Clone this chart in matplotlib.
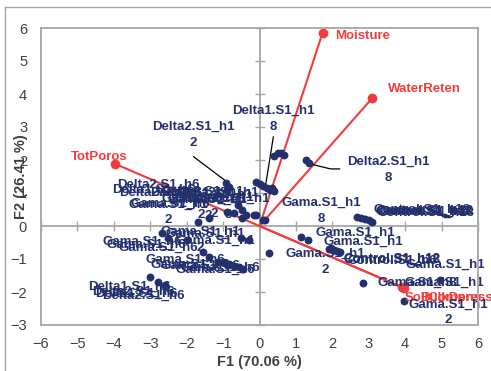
import matplotlib
matplotlib.use("Agg")
import matplotlib.pyplot as plt
from matplotlib.lines import Line2D

plt.rcParams['font.family'] = ['Liberation Sans', 'DejaVu Sans']

NAVY = '#22306E'
RED = '#F03C3C'
GRAY = '#A6A6A6'
TXT = '#404040'

# ---- observations (F1, F2) ----
obs_f1 = [0.40, 0.50, 0.60, 0.66, 1.27, 1.35,
          -0.10, 0.00, 0.10, 0.20, 0.30, 0.40, 0.35,
          -0.93, -0.85, -0.88,
          -0.60, -0.47, -0.38, -0.71, -0.16, 0.10, -1.70, -1.40, -0.88, -0.10, 0.16, -0.47,
          2.69, 2.80, 2.90, 3.00, 3.10,
          1.13, 1.32, 0.27,
          1.90, 1.97, 2.05, 2.12, 2.20,
          2.83, 4.97, 3.96,
          -2.67, -2.50, -2.00, -0.52, -0.30,
          -1.54, -1.40, -1.15, -1.00, -0.85, -0.70, -0.55, -0.45,
          -3.00, -2.80, -2.60]
obs_f2 = [2.12, 2.20, 2.22, 2.15, 2.00, 1.92,
          1.33, 1.28, 1.22, 1.15, 1.10, 1.05, 1.15,
          1.30, 1.18, 1.10,
          0.64, 0.48, 0.33, 0.39, 0.33, 0.18, 0.12, 0.24, 0.42, 0.33, 0.18, 0.24,
          0.27, 0.25, 0.22, 0.18, 0.12,
          -0.33, -0.42, -0.82,
          -0.70, -0.68, -0.72, -0.75, -0.80,
          -1.73, -1.64, -2.27,
          -0.20, -0.35, -0.42, -0.35, -0.42,
          -0.80, -0.95, -1.10, -1.10, -1.15, -1.20, -1.25, -1.30,
          -1.55, -1.70, -1.80]

# ---- observation labels ----
lab_text = ['Delta1.S1_h1\n8', 'Delta2.S1_h1\n8', 'Delta2.S1_h1\n2', 'Gama.S1_h1\n8',
            'Control.S1_h18', 'Control.S1_h12', 'Control.S1_h18', 'Control.S1_h6', 'Control.S1_h18',
            'Gama.S1_h1', 'Gama.S1_h1', 'Gama.S1_h1\n2',
            'Control.S1_h12', 'Control.S1_h18', 'Control.S1_h6', 'Gama.S1_h1',
            'Gama.S1_h8', 'Gama.S1_h1', 'Gama.S1_h1\n2',
            'Delta2.S1_h6', 'Delta1.S1_h6', 'Delta2.S1_h6',
            'Delta1.S1_h1', 'Delta2.S1_h1', 'Delta1.S1_h1', 'Delta2.S1_h1',
            'Gama.S1_h6', 'Gama.S1_h1\n2', 'Gama.S1_h1\n2', 'Gama.S1_h1\n2', 'Gama.S1_h1\n2',
            'Delta1.S1_h1\n8',
            'Gama.S1_h1', 'Gama.S1_h6', 'Gama.S1_h6', 'Gama.S1_h1', 'Gama.S1_h6', 'Gama.S1_h1\n2',
            'Gama.S1_h6', 'Gama.S1_h6', 'Gama.S1_h6', 'Gama.S1_h6', 'Gama.S1_h6',
            'Delta1.S1_h6', 'Delta2.S1_h6', 'Delta1.S1_h6', 'Delta2.S1_h6']
lab_x = [0.38, 3.54, -1.81, 1.70,
         3.14, 3.20, 3.18, 3.30, 3.24,
         1.54, 1.76, 1.81,
         2.30, 2.30, 2.42, 4.00,
         3.24, 3.98, 5.19,
         -3.90, -4.04, -3.85,
         -3.00, -2.70, -2.45, -2.30,
         -3.54, -2.50, -1.60, -1.42, -1.25,
         -0.85,
         -2.58, -4.31, -4.20, -2.30, -3.87, -1.62,
         -3.13, -3.00, -2.72, -2.30, -2.17,
         -4.70, -4.59, -4.50, -4.31]
lab_y = [3.25, 1.70, 2.76, 0.45,
         0.50, 0.47, 0.44, 0.42, 0.40,
         -0.20, -0.48, -1.10,
         -0.98, -1.03, -1.06, -1.18,
         -1.73, -1.73, -2.62,
         1.24, 1.09, 1.02,
         1.00, 1.05, 0.95, 1.00,
         0.66, 0.41, 0.58, 0.55, 0.60,
         0.59,
         -0.24, -0.48, -0.56, -0.45, -0.67, -0.43,
         -1.03, -1.18, -1.20, -1.33, -1.28,
         -1.85, -2.00, -2.05, -2.12]

# ---- leader lines (label -> point) ----
lead_x = [[0.38, 0.17], [-1.81, -0.85], [1.32, 1.95, 2.20]]
lead_y = [[2.70, 1.25], [2.10, 1.30], [1.90, 1.73, 1.73]]

# ---- variables (loadings) ----
var_names = ['Moisture', 'WaterReten', 'TotPoros', 'SoilCompress', 'BulkDens']
var_f1 = [1.73, 3.10, -3.96, 3.96, 3.92]
var_f2 = [5.85, 3.88, 1.88, -1.88, -1.86]
var_lab_x = [2.09, 3.54, -5.17, 4.00, 4.42]
var_lab_y = [5.76, 4.15, 2.09, -2.18, -2.18]

xticks = [-6, -5, -4, -3, -2, -1, 0, 1, 2, 3, 4, 5, 6]
yticks = [-3, -2, -1, 0, 1, 2, 3, 4, 5, 6]

fig = plt.figure(figsize=(4.91, 3.71), dpi=100)
pos = [41 / 491, 46 / 371, 437 / 491, 297 / 371]
ax = fig.add_axes(pos)
ax.set_xlim(-6, 6)
ax.set_ylim(-3, 6)

# zero-centred axes with crossing ticks
for s in ['top', 'right']:
    ax.spines[s].set_visible(False)
ax.spines['left'].set_position(('data', 0))
ax.spines['bottom'].set_position(('data', 0))
for s in ['left', 'bottom']:
    ax.spines[s].set_color(GRAY)
    ax.spines[s].set_linewidth(1.3)
ax.set_xticks(xticks)
ax.set_yticks(yticks)
ax.tick_params(direction='inout', length=7, width=1, color=GRAY,
               labelleft=False, labelbottom=False)

# frame axes with tick labels at the edges
ax2 = fig.add_axes(pos, sharex=ax, sharey=ax)
ax2.patch.set_visible(False)
for s in ax2.spines.values():
    s.set_color(GRAY)
    s.set_linewidth(1.3)
ax2.tick_params(axis='y', length=0, labelsize=10.5, labelcolor=TXT, pad=10)
ax2.tick_params(axis='x', length=0, labelsize=10.5, labelcolor=TXT, pad=9)
ax2.set_xlabel('F1 (70.06 %)', fontsize=10.5, fontweight='bold', color=TXT)
ax2.set_ylabel('F2 (26.41 %)', fontsize=10.5, fontweight='bold', color=TXT)
ax2.xaxis.set_label_coords(0.5, -0.100)
ax2.yaxis.set_label_coords(-0.030, 0.5)

# variable vectors
for name, vx, vy, lx, ly in zip(var_names, var_f1, var_f2, var_lab_x, var_lab_y):
    ax.plot([0, vx], [0, vy], color=RED, lw=1.5, zorder=3)
    ax.plot([vx], [vy], 'o', color=RED, ms=6, zorder=3)
    ax.text(lx, ly, name, color=RED, fontsize=9.5, fontweight='bold',
            ha='left', va='center', zorder=6, clip_on=False)

# leader lines
for lx, ly in zip(lead_x, lead_y):
    ax.plot(lx, ly, color='black', lw=0.9, zorder=4)

# observations
ax.scatter(obs_f1, obs_f2, s=32, color=NAVY, zorder=5, linewidths=0)

for t, x, y in zip(lab_text, lab_x, lab_y):
    if '\n' in t:
        ax.text(x, y, t, color=NAVY, fontsize=9.5, fontweight='bold', ha='center',
                va='center', multialignment='center', linespacing=1.45, zorder=6)
    else:
        ax.text(x, y, t, color=NAVY, fontsize=9.5, fontweight='bold', ha='left',
                va='center', zorder=6, clip_on=False)

# outer chart frame (top and left edges visible)
fig.add_artist(Line2D([5 / 491, 5 / 491], [0, 1 - 7 / 371], color=GRAY, lw=1, transform=fig.transFigure))
fig.add_artist(Line2D([5 / 491, 1], [1 - 7 / 371, 1 - 7 / 371], color=GRAY, lw=1, transform=fig.transFigure))

fig.savefig('out.png', dpi=100)
